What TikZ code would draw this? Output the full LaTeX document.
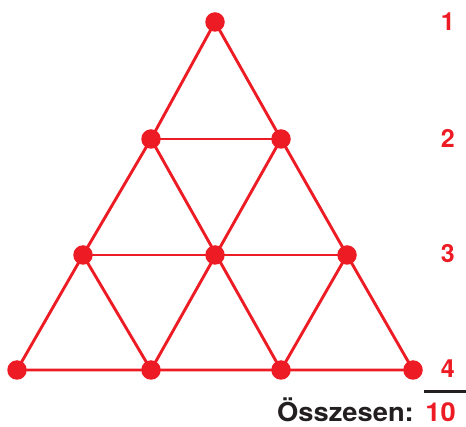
\documentclass[tikz,border=0pt]{standalone}
\usepackage{graphicx}
\usepackage{fontspec}
\setmainfont{TeX Gyre Heros}
\definecolor{dotred}{RGB}{237,28,36}
\definecolor{txtblack}{RGB}{35,31,32}
\begin{document}
\begin{tikzpicture}[x=1pt,y=-1pt,
  dot/.style={circle,fill=dotred,inner sep=0pt,minimum size=19.5pt},
  edge/.style={draw=dotred,line width=2.9pt},
  rownum/.style={text=dotred,font=\bfseries\fontsize{25}{29}\selectfont,inner sep=0pt,anchor=base east},
  sumtxt/.style={font=\bfseries\fontsize{26}{30}\selectfont,inner sep=0pt,anchor=base east}]
\useasboundingbox (0,0) rectangle (466,427);
% edges
\path[edge] (215,22) -- (151,139) -- (83,255) -- (17,370) -- (151,370) -- (281,370) -- (413,370) -- (347,255) -- (281,139) -- cycle;
\path[edge] (151,139) -- (281,139);
\path[edge] (83,255) -- (347,255);
\path[edge] (151,139) -- (281,370);
\path[edge] (281,139) -- (151,370);
\path[edge] (83,255) -- (151,370);
\path[edge] (347,255) -- (281,370);
% dots
\node[dot] (a) at (215,22) {};
\node[dot] (b1) at (151,139) {};
\node[dot] (b2) at (281,139) {};
\node[dot] (c1) at (83,255) {};
\node[dot] (c2) at (215,255) {};
\node[dot] (c3) at (347,255) {};
\node[dot] (d1) at (17,370) {};
\node[dot] (d2) at (151,370) {};
\node[dot] (d3) at (281,370) {};
\node[dot] (d4) at (413,370) {};
% row numbers
\node[rownum] (n1) at (455,31) {1};
\node[rownum] (n2) at (455,148) {2};
\node[rownum] (n3) at (455,263) {3};
\node[rownum] (n4) at (455,378) {4};
% total
\node[sumtxt,text=dotred] (tot) at (456,421.5) {\scalebox{1.05}[1]{10}};
\node[sumtxt,text=txtblack] (lbl) at (414,421.5) {\scalebox{1.05}[1]{Összesen:}};
\coordinate (ol) at (424,391.5);
\coordinate (or) at (466,391.5);
\draw[txtblack,line width=2.4pt] (ol) -- (or);
\end{tikzpicture}
\end{document}
